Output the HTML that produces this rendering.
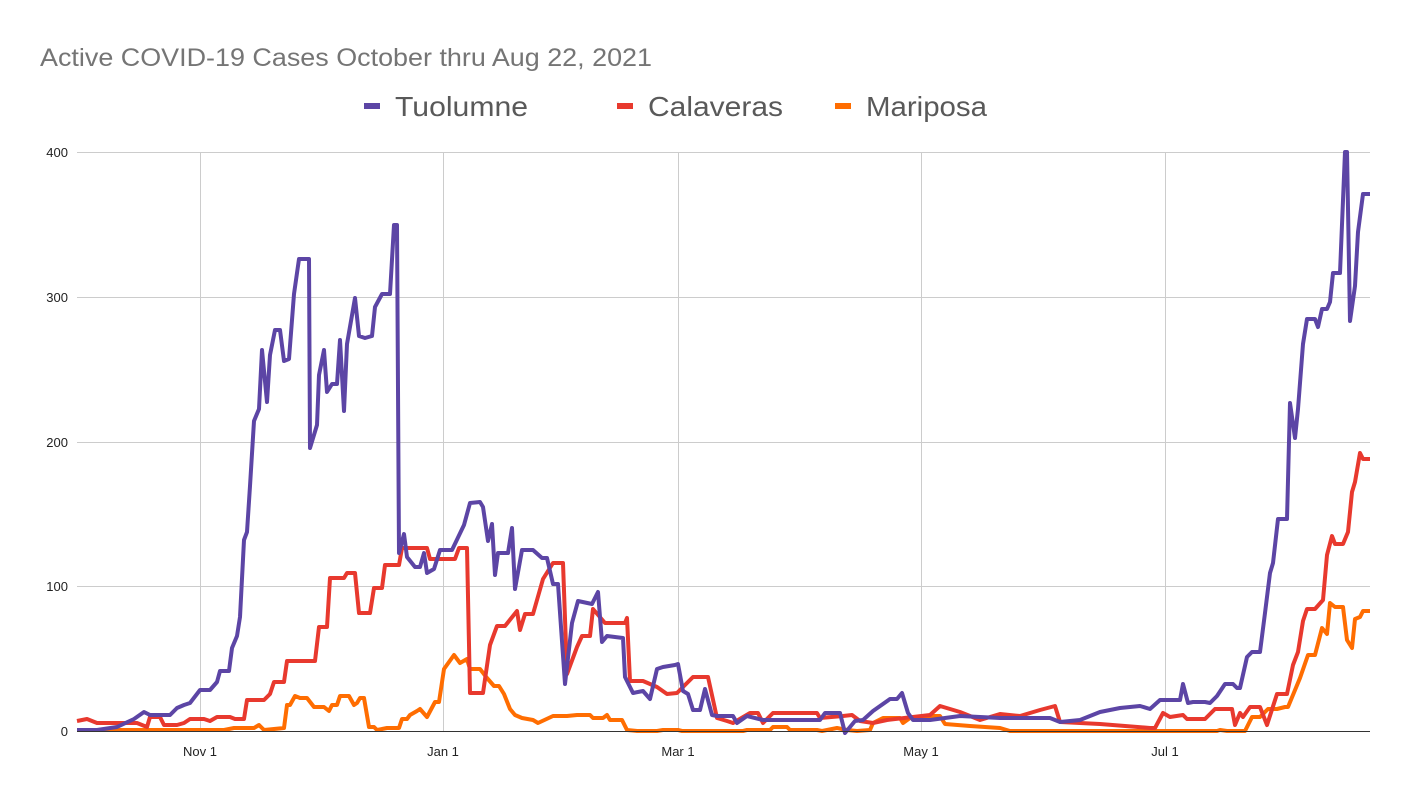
<!DOCTYPE html>
<html><head><meta charset="utf-8"><style>
body{margin:0;background:#fff;}
svg{display:block;font-family:"Liberation Sans",Arial,sans-serif;}
</style></head><body>
<svg width="1411" height="800" viewBox="0 0 1411 800">
<rect width="1411" height="800" fill="#fff"/>
<text x="40" y="66" font-size="25" fill="#757575" textLength="612" lengthAdjust="spacingAndGlyphs">Active COVID-19 Cases October thru Aug 22, 2021</text>
<g font-size="28" fill="#595959">
<rect x="364" y="103" width="16" height="6" fill="#5c45a5"/><text x="395" y="116" textLength="133" lengthAdjust="spacingAndGlyphs">Tuolumne</text>
<rect x="617" y="103" width="16" height="6" fill="#e8392e"/><text x="648" y="116" textLength="135" lengthAdjust="spacingAndGlyphs">Calaveras</text>
<rect x="835" y="103" width="16" height="6" fill="#ff6d01"/><text x="866" y="116" textLength="121" lengthAdjust="spacingAndGlyphs">Mariposa</text>
</g>
<g stroke="#cccccc" stroke-width="1">
<line x1="77" y1="152.5" x2="1370" y2="152.5"/>
<line x1="77" y1="297.5" x2="1370" y2="297.5"/>
<line x1="77" y1="442.5" x2="1370" y2="442.5"/>
<line x1="77" y1="586.5" x2="1370" y2="586.5"/>
<line x1="200.5" y1="152" x2="200.5" y2="731"/>
<line x1="443.5" y1="152" x2="443.5" y2="731"/>
<line x1="678.5" y1="152" x2="678.5" y2="731"/>
<line x1="921.5" y1="152" x2="921.5" y2="731"/>
<line x1="1165.5" y1="152" x2="1165.5" y2="731"/>
</g>
<g font-size="13" fill="#222" text-anchor="end">
<text x="68" y="157">400</text><text x="68" y="302">300</text><text x="68" y="447">200</text><text x="68" y="591">100</text><text x="68" y="736">0</text>
</g>
<g font-size="13" fill="#222" text-anchor="middle">
<text x="200" y="756">Nov 1</text><text x="443" y="756">Jan 1</text><text x="678" y="756">Mar 1</text><text x="921" y="756">May 1</text><text x="1165" y="756">Jul 1</text>
</g>
<g fill="none" stroke-width="4" stroke-linejoin="round">
<polyline stroke="#ff6d01" points="77,730 224,730 234,728 254,728 259,725 264,730 284,728 287,705 290,705 295,696 300,698 307,698 314,707 324,707 329,711 332,705 337,705 340,696 349,696 354,705 357,703 360,698 364,698 369,727 374,727 377,730 387,728 399,728 402,719 407,719 410,715 417,711 420,709 427,717 435,702 439,702 444,669 454,655 460,663 467,659 470,669 480,669 487,678 494,686 499,686 504,694 510,709 515,715 522,718 533,720 538,723 553,716 567,716 577,715 590,715 593,718 603,718 607,715 610,720 622,720 627,730 637,731 657,731 663,730 678,730 682,731 743,731 747,730 770,730 773,727 787,727 790,730 817,730 822,731 837,728 847,730 857,731 870,730 873,723 883,718 900,718 903,723 910,718 930,716 940,716 945,724 970,726 1000,728 1010,731 1217,731 1220,730 1227,731 1245,731 1252,717 1260,717 1268,709 1277,709 1285,707 1288,707 1300,678 1308,655 1315,655 1322,628 1327,634 1330,603 1335,607 1343,607 1347,640 1352,648 1355,619 1360,617 1363,611 1370,611"/>
<polyline stroke="#e8392e" points="77,721 87,719 97,723 137,723 147,727 150,717 160,717 164,725 177,725 184,723 190,719 204,719 210,721 217,717 230,717 235,719 244,719 247,700 264,700 270,694 274,682 284,682 287,661 315,661 319,627 327,627 330,578 344,578 347,573 355,573 359,613 370,613 374,588 382,588 385,565 399,565 402,548 427,548 430,559 455,559 459,548 467,548 470,693 483,693 490,645 497,626 505,626 517,611 520,630 525,614 533,614 543,579 553,563 563,563 567,674 577,647 582,636 590,636 593,609 605,623 625,623 627,618 630,681 643,681 657,687 667,694 677,693 693,677 708,677 717,718 727,721 733,723 750,713 758,713 763,723 773,713 817,713 820,718 843,716 852,715 860,721 873,723 887,720 930,715 940,706 960,712 980,720 1000,714 1020,716 1040,710 1055,706 1060,722 1100,724 1150,728 1155,728 1163,713 1170,717 1183,715 1187,719 1205,719 1215,709 1232,709 1235,725 1240,713 1243,717 1250,707 1260,707 1267,725 1277,694 1287,694 1293,665 1298,652 1303,621 1307,609 1315,609 1323,600 1327,555 1332,536 1335,544 1343,544 1348,532 1352,492 1355,482 1360,453 1363,459 1370,459"/>
<polyline stroke="#5c45a5" points="77,730 97,730 117,727 134,719 144,712 150,715 170,715 177,708 184,705 190,703 200,690 210,690 217,682 220,671 229,671 232,648 237,636 240,617 244,540 247,532 250,486 254,421 259,409 262,350 267,402 270,355 275,330 280,330 284,361 289,359 294,294 299,259 309,259 310,448 317,425 319,375 324,350 327,392 332,384 337,384 340,340 344,411 347,344 355,298 359,336 365,338 372,336 375,307 382,294 390,294 394,225 397,225 399,553 404,534 407,557 415,567 420,567 424,553 427,573 434,569 440,550 452,550 464,525 470,503 480,502 483,507 488,541 492,524 495,575 498,553 508,553 512,528 515,589 522,550 533,550 542,558 547,558 553,584 558,584 565,684 572,623 578,601 592,604 598,592 602,642 607,636 623,638 625,677 633,693 643,691 650,699 657,669 663,667 675,665 678,664 683,691 688,694 693,710 700,710 705,689 712,715 717,716 733,716 737,723 747,716 763,720 820,720 825,713 840,713 845,733 855,721 863,720 873,711 890,699 897,699 902,693 908,713 913,720 930,720 960,716 1000,718 1050,718 1060,722 1080,720 1100,712 1120,708 1140,706 1150,709 1160,700 1180,700 1183,684 1188,703 1193,702 1205,702 1210,703 1217,696 1225,684 1233,684 1237,688 1240,688 1247,657 1252,652 1260,652 1265,613 1270,573 1273,563 1278,519 1287,519 1290,403 1295,438 1298,409 1303,344 1307,319 1315,319 1318,327 1322,309 1327,309 1330,302 1333,273 1340,273 1345,152 1347,152 1350,321 1355,286 1358,232 1363,194 1370,194"/>
</g>
<line x1="77" y1="731.5" x2="1370" y2="731.5" stroke="#333" stroke-width="1"/>
</svg>
</body></html>
